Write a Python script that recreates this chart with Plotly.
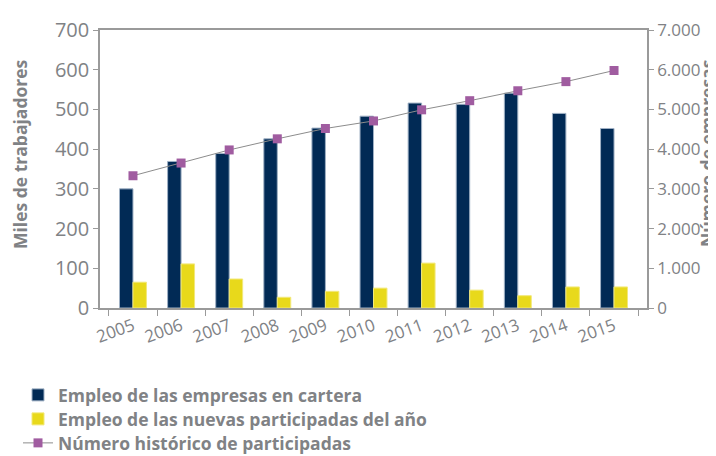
import plotly.graph_objects as go

years = ['2005', '2006', '2007', '2008', '2009', '2010', '2011', '2012', '2013', '2014', '2015']
empleo_cartera = [300, 369, 389, 426, 453, 483, 516, 513, 541, 490, 452]
empleo_nuevas = [65, 111, 73, 27, 42, 50, 113, 45, 31, 53, 53]
num_participadas = [3330, 3650, 3980, 4260, 4520, 4710, 4990, 5220, 5470, 5700, 5980]

GREY = '#808285'
FONT = 'Open Sans'

# plot area spans x 92..639 px, y 22..300 px
L, R, T, B = 92, 639, 22, 300
W, H = R - L, B - T


def px(x):
    return (x - L) / W


def py(y):
    return (B - y) / H


fig = go.Figure()

fig.add_trace(go.Bar(
    x=years, y=empleo_cartera, name='Empleo de las empresas en cartera',
    marker=dict(color='#012a55', line=dict(color='#9fb0c4', width=1)),
    legend='legend',
))
fig.add_trace(go.Bar(
    x=years, y=empleo_nuevas, name='Empleo de las nuevas participadas del año',
    marker=dict(color='#e8d91b', line=dict(color='#f2e87a', width=1)),
    legend='legend2',
))
fig.add_trace(go.Scatter(
    x=years, y=num_participadas, name='Número histórico de participadas',
    yaxis='y2', mode='lines+markers',
    line=dict(color='#8c8c8c', width=1),
    marker=dict(symbol='square', size=9, color='#a05ca0'),
    legend='legend3',
))

leg = dict(xanchor='left', yanchor='middle', x=px(10),
           font=dict(size=17.5, color=GREY, family=FONT, weight='bold'),
           bgcolor='rgba(0,0,0,0)', itemwidth=30)

fig.update_layout(
    width=716, height=456,
    margin=dict(l=L, r=716 - R, t=T, b=456 - B, autoexpand=False),
    paper_bgcolor='white', plot_bgcolor='white',
    separators=',.',
    barmode='group', bargap=0.44, bargroupgap=0,
    font=dict(family=FONT, color=GREY, size=17),
    showlegend=True,
    legend=dict(leg, y=py(387)),
    legend2=dict(leg, y=py(411)),
    legend3=dict(leg, y=py(435)),
    xaxis=dict(
        type='category', tickangle=-20, tickson='boundaries',
        ticks='outside', ticklen=6, tickcolor='#9a9a9a',
        showline=True, linecolor='#9a9a9a', linewidth=1.5, mirror=True,
        tickfont=dict(size=17, color=GREY),
    ),
    yaxis=dict(
        range=[0, 700], dtick=100, showgrid=False, zeroline=False,
        ticks='outside', ticklen=5, tickcolor='#9a9a9a',
        showline=True, linecolor='#9a9a9a', linewidth=1.5,
        tickfont=dict(size=20, color=GREY),
    ),
    yaxis2=dict(
        overlaying='y', side='right',
        range=[0, 7000], dtick=1000, tickformat=',d',
        showgrid=False, zeroline=False,
        ticks='outside', ticklen=5, tickcolor='#9a9a9a',
        showline=True, linecolor='#9a9a9a', linewidth=1.5,
        tickfont=dict(size=17, color=GREY),
    ),
    annotations=[
        dict(text='Miles de trabajadores', xref='paper', yref='paper',
             x=px(12), y=py(146), xanchor='center', yanchor='middle',
             textangle=-90, showarrow=False,
             font=dict(size=17.5, color=GREY, weight='bold')),
        dict(text='Número de empresas', xref='paper', yref='paper',
             x=px(699), y=py(145), xanchor='center', yanchor='middle',
             textangle=-90, showarrow=False,
             font=dict(size=17.5, color=GREY, weight='bold')),
    ],
)

fig.write_html('out.html')
